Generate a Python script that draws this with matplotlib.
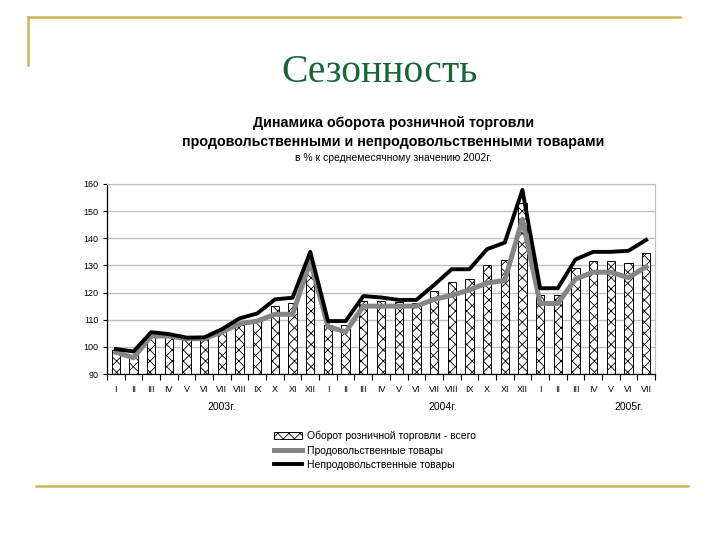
import numpy as np
import matplotlib.pyplot as plt
from matplotlib.lines import Line2D

plt.rcParams['font.family'] = ['Liberation Sans', 'DejaVu Sans']
plt.rcParams['hatch.linewidth'] = 0.6

# month labels, Jan 2003 .. Jul 2005
months = ['I', 'II', 'III', 'IV', 'V', 'VI', 'VII', 'VIII', 'IX', 'X', 'XI', 'XII']
labels = months + months + months[:7]

# total retail turnover (bars), % of 2002 monthly average
total = [99, 97, 104, 103.5, 102.5, 103, 105.5, 108, 109.5, 115, 116, 130,
         108, 108, 117, 117, 116.5, 116, 120.5, 124, 125, 130, 132, 153,
         119, 119, 129, 131.5, 131.5, 131, 134.5]
# food products (gray line)
food = [98, 96, 104, 104, 103, 103, 105.5, 108.5, 109.5, 112, 112, 131.5,
        107.5, 105.5, 115, 115, 115, 115, 117.5, 119, 121, 123.5, 124.5, 147,
        116, 116, 125, 127.5, 127.5, 125.5, 129.5]
# non-food products (black line)
nonfood = [99.2, 98.3, 105.4, 104.7, 103.4, 103.5, 106.5, 110.5, 112.3, 117.5, 118.1, 135,
           109.5, 109.5, 118.7, 118.2, 117.3, 117.3, 122.8, 128.6, 128.6, 136, 138.4, 157.8,
           121.6, 121.6, 132.2, 135, 135, 135.4, 139.4]

years = ['2003г.', '2004г.', '2005г.']
year_pos = [6, 18.5, 29]

x = np.arange(len(labels))

fig = plt.figure(figsize=(7.2, 5.4), dpi=100)

# slide decoration
gold = '#c9b551'
fig.add_artist(Line2D([28/720, 680/720], [1 - 17/540, 1 - 17/540], color=gold, lw=1.8))
fig.add_artist(Line2D([28/720, 28/720], [1 - 17/540, 1 - 65/540], color=gold, lw=1.8))
fig.add_artist(Line2D([36/720, 688/720], [1 - 486/540, 1 - 486/540], color=gold, lw=1.8))
fig.text(0.527, 1 - 82/540, 'Сезонность', family='Liberation Serif', fontsize=28.5,
         color='#17663a', ha='center', va='baseline')

# chart titles
fig.text(0.546, 1 - 123/540, 'Динамика оборота розничной торговли', fontsize=10.3,
         fontweight='bold', ha='center', va='center')
fig.text(0.546, 1 - 142/540, 'продовольственными и непродовольственными товарами', fontsize=10.3,
         fontweight='bold', ha='center', va='center')
fig.text(0.546, 1 - 158/540, 'в % к среднемесячному значению 2002г.', fontsize=7.5,
         ha='center', va='center')

ax = fig.add_axes([107/720, 1 - 374/540, 548/720, 190/540])
bars = ax.bar(x, total, width=0.47, color='white', edgecolor='black', lw=0.7,
              hatch='xxx', label='Оборот розничной торговли - всего', zorder=2)
l1, = ax.plot(x, food, color='#858585', lw=3.6, label='Продовольственные товары', zorder=3)
l2, = ax.plot(x, nonfood, color='black', lw=2.8, label='Непродовольственные товары', zorder=4)

ax.set_xlim(-0.5, len(labels) - 0.5)
ax.set_ylim(90, 160)
ax.set_yticks(np.arange(90, 161, 10))
ax.yaxis.grid(True, color='#c0c0c0', lw=1)
ax.set_axisbelow(True)
ax.set_xticks(x)
ax.set_xticklabels(labels, fontsize=6.5)
ax.set_xticks(np.arange(-0.5, len(labels), 1), minor=True)
ax.tick_params(axis='x', which='major', length=0, pad=8)
ax.tick_params(axis='x', which='minor', length=4, width=0.8)
ax.tick_params(axis='y', labelsize=6.5, length=3, width=0.8, pad=3)
for s in ['top', 'right']:
    ax.spines[s].set_color('#c0c0c0')
for s in ['left', 'bottom']:
    ax.spines[s].set_linewidth(0.9)

for yr, p in zip(years, year_pos):
    ax.text(p, -0.174, yr, transform=ax.get_xaxis_transform(), fontsize=7.5,
            ha='center', va='center')

fig.legend(handles=[bars, l1, l2], loc='upper left', bbox_to_anchor=(274/720, 1 - 431/540),
           frameon=False, fontsize=7.5, borderpad=0, borderaxespad=0, labelspacing=0.4,
           handlelength=2.7, handleheight=0.6, handletextpad=0.5)

fig.savefig('out.png', dpi=100)
